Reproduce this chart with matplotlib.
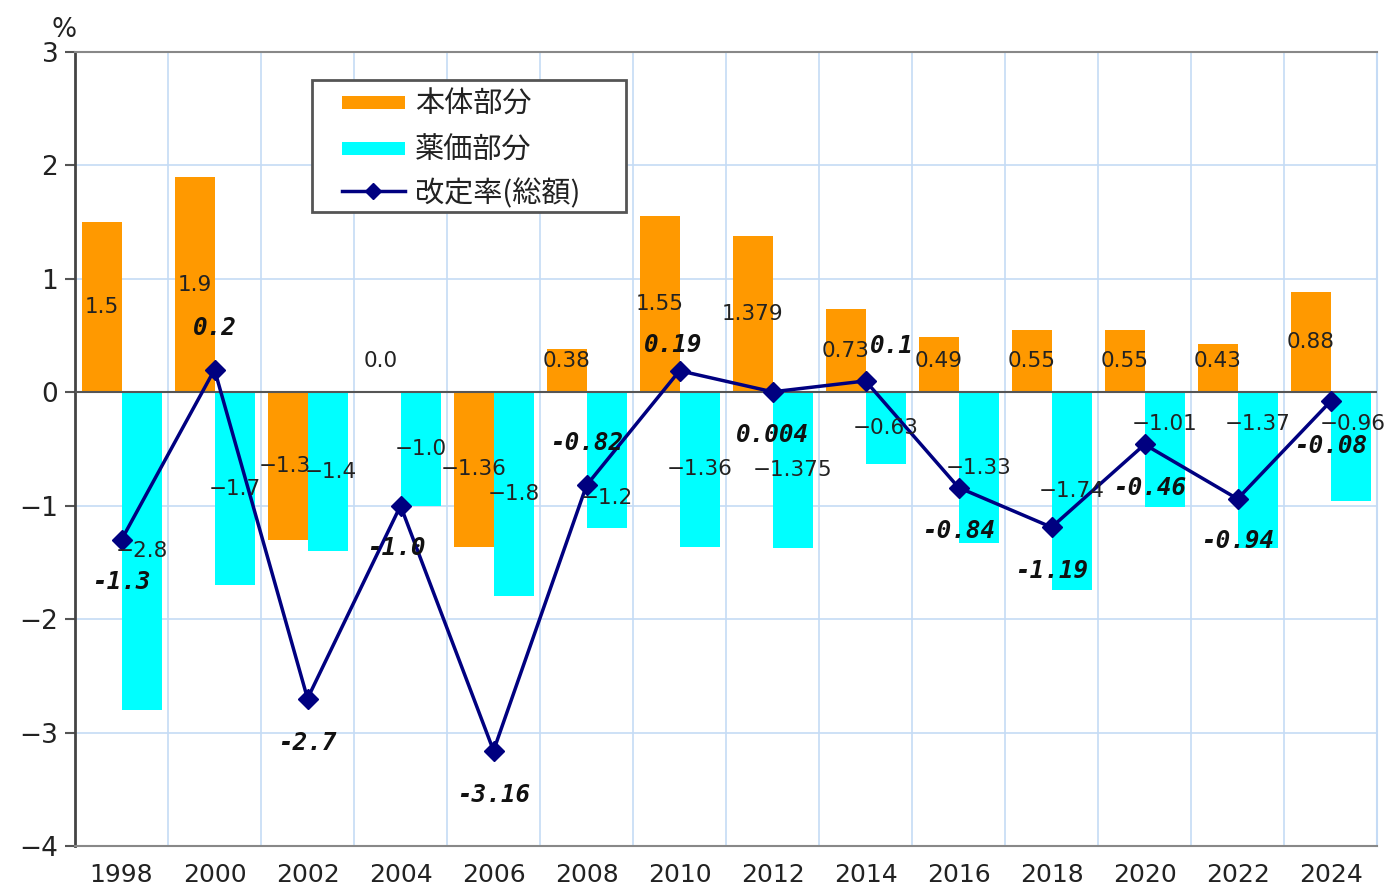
import matplotlib
matplotlib.use("Agg")
import matplotlib.pyplot as plt
from matplotlib.lines import Line2D
from matplotlib.patches import Rectangle
import numpy as np

years = ["1998", "2000", "2002", "2004", "2006", "2008", "2010", "2012",
         "2014", "2016", "2018", "2020", "2022", "2024"]
honbody = [1.5, 1.9, -1.3, 0.0, -1.36, 0.38, 1.55, 1.379, 0.73, 0.49, 0.55, 0.55, 0.43, 0.88]
honbody_labels = ["1.5", "1.9", "-1.3", "0.0", "-1.36", "0.38", "1.55", "1.379",
                  "0.73", "0.49", "0.55", "0.55", "0.43", "0.88"]
yakka = [-2.8, -1.7, -1.4, -1.0, -1.8, -1.2, -1.36, -1.375, -0.63, -1.33, -1.74, -1.01, -1.37, -0.96]
yakka_labels = ["-2.8", "-1.7", "-1.4", "-1.0", "-1.8", "-1.2", "-1.36", "-1.375",
                "-0.63", "-1.33", "-1.74", "-1.01", "-1.37", "-0.96"]
total = [-1.3, 0.2, -2.7, -1.0, -3.16, -0.82, 0.19, 0.004, 0.1, -0.84, -1.19, -0.46, -0.94, -0.08]
total_labels = ["-1.3", "0.2", "-2.7", "-1.0", "-3.16", "-0.82", "0.19", "0.004",
                "0.1", "-0.84", "-1.19", "-0.46", "-0.94", "-0.08"]
series_names = ["本体部分", "薬価部分", "改定率(総額)"]

plt.rcParams['font.family'] = ['Noto Sans CJK JP', 'DejaVu Sans']

W, H = 1384, 889
fig = plt.figure(figsize=(W / 100, H / 100), dpi=100)
ax = fig.add_axes([0.0542, 0.0484, 0.9408, 0.8931])

x = np.arange(len(years))
w = 0.43
orange = "#ff9900"
cyan = "#00ffff"
navy = "#000080"

ax.bar(x - w / 2, honbody, width=w, color=orange, zorder=2)
ax.bar(x + w / 2, yakka, width=w, color=cyan, zorder=2)
ax.axhline(0, color="#555555", lw=1.5, zorder=3)
ax.plot(x, total, color=navy, lw=2.5, marker="D", ms=10, zorder=4)

ax.set_xlim(-0.5, len(years) - 0.5)
ax.set_ylim(-4, 3)
ax.set_yticks(range(-4, 4))
ax.set_yticklabels([("−" + str(-v)) if v < 0 else str(v) for v in range(-4, 4)],
                   family=["DejaVu Sans"])
ax.set_xticks(x)
ax.set_xticklabels(years, family=["DejaVu Sans"])
ax.tick_params(axis="x", length=0, labelsize=18, pad=12, colors="#222222")
ax.tick_params(axis="y", length=7, width=1.5, color="#555555", labelsize=19, pad=5, colors="#222222")

# grid
for v in range(-3, 4):
    ax.axhline(v, color="#c5dbf5", lw=1.2, zorder=1)
for b in np.arange(0.5, len(years) - 0.5, 1):
    ax.axvline(b, color="#c5dbf5", lw=1.2, zorder=1)

for s in ["top", "bottom", "right"]:
    ax.spines[s].set_color("#888888")
    ax.spines[s].set_linewidth(1.5)
ax.spines["right"].set_color("#c5dbf5")
ax.spines["left"].set_color("#444444")
ax.spines["left"].set_linewidth(2)

lab_kw = dict(fontsize=15.5, ha="center", va="center", color="#222222", zorder=6,
              family=["DejaVu Sans"])

# orange labels (centered in bars)
for i, (v, t) in enumerate(zip(honbody, honbody_labels)):
    y = v / 2 if v != 0 else 0.28
    if 0 < v < 0.56:
        y = 0.28
    xx = i - w / 2
    if i == 2:
        xx -= 0.03
    ax.text(xx, y, t.replace("-", "−"), **lab_kw)

# cyan labels
cy_over = {5: -0.93, 11: -0.28, 12: -0.28, 13: -0.28}
for i, (v, t) in enumerate(zip(yakka, yakka_labels)):
    y = cy_over.get(i, v / 2)
    xx = i + w / 2
    if i == 13:
        xx = i + w / 2 + 0.02
    if i == 2:
        xx += 0.04
    ax.text(xx, y, t.replace("-", "−"), **lab_kw)

# total labels (bold)
tot_pos = [(0.0, -1.675), (0.0, 0.564), (0.0, -3.09), (-0.05, -1.376), (0.0, -3.55),
           (0.0, -0.45), (-0.07, 0.414), (0.0, -0.38), (0.28, 0.405), (0.0, -1.226),
           (0.0, -1.58), (0.05, -0.84), (0.0, -1.31), (0.0, -0.47)]
for i, (t, (dx, y)) in enumerate(zip(total_labels, tot_pos)):
    ax.text(i + dx, y, t, fontsize=17.5, ha="center", va="center", color="#111111",
            fontweight="bold", fontstyle="italic", family=["DejaVu Sans Mono"], zorder=6)

fig.text(64 / W, 1 - 30 / H, "%", fontsize=19, ha="center", va="center",
         color="#222222", family=["DejaVu Sans"])

# legend drawn in figure pixel coordinates
def fx(px):
    return px / W

def fy(py):
    return 1 - py / H

frame = Rectangle((fx(312), fy(212)), fx(626) - fx(312), fy(80) - fy(212),
                  transform=fig.transFigure, facecolor="white", edgecolor="#555555",
                  lw=2, zorder=10)
fig.patches.append(frame)
rows = [102, 148, 191]
for color, ry in zip([orange, cyan], rows[:2]):
    fig.patches.append(Rectangle((fx(342), fy(ry + 6.5)), fx(405) - fx(342), fy(ry - 6.5) - fy(ry + 6.5),
                                 transform=fig.transFigure, facecolor=color, edgecolor="none", zorder=11))
fig.lines.append(Line2D([fx(342), fx(405)], [fy(rows[2]), fy(rows[2])], color=navy, lw=2.5,
                        transform=fig.transFigure, zorder=11))
fig.lines.append(Line2D([fx(373.5)], [fy(rows[2])], color=navy, marker="D", ms=8, lw=0,
                        transform=fig.transFigure, zorder=12))
for name, ry in zip(series_names, rows):
    fig.text(fx(415), fy(ry + 3), name, fontsize=21, ha="left", va="center",
             color="#222222", zorder=12)

fig.savefig("out.png", dpi=100, facecolor="white")
